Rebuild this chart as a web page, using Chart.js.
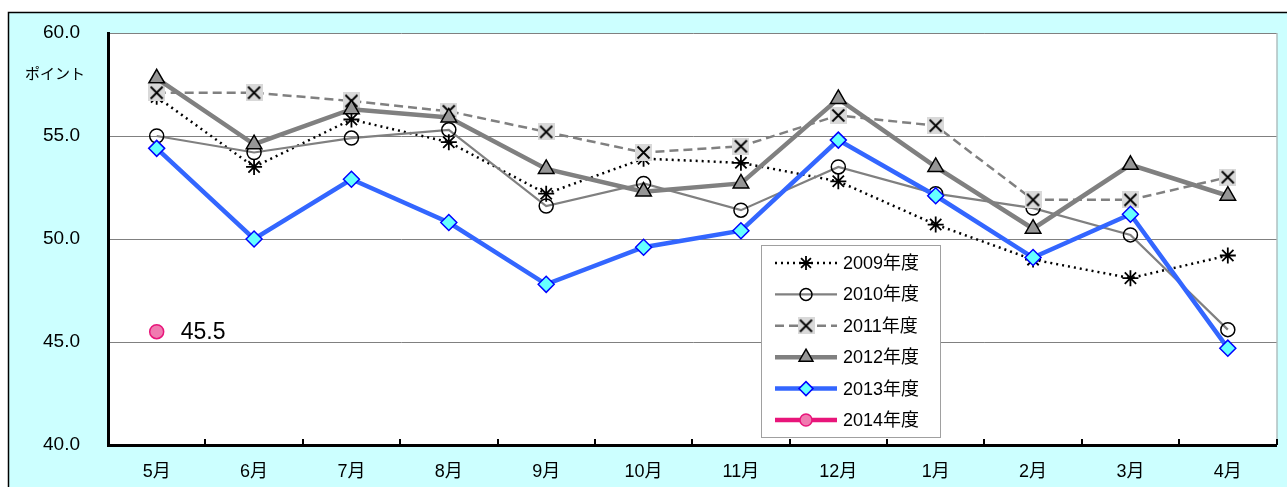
<!DOCTYPE html>
<html>
<head>
<meta charset="utf-8">
<script src="https://cdn.jsdelivr.net/npm/chart.js@4/dist/chart.umd.min.js"></script>
<style>
  html, body { margin: 0; padding: 0; background: #fff; }
  #wrap { width: 1287px; height: 487px; }
</style>
</head>
<body>
<div id="wrap"><canvas id="myChart" width="1287" height="487"></canvas></div>
<script>
const MONTHS = ['5月', '6月', '7月', '8月', '9月', '10月', '11月', '12月', '1月', '2月', '3月', '4月'];
const Y_TICKS = [40, 45, 50, 55, 60];
const Y_UNIT = 'ポイント';

const FY2009 = [56.9, 53.5, 55.8, 54.7, 52.2, 53.9, 53.7, 52.8, 50.7, 49.0, 48.1, 49.2];
const FY2010 = [55.0, 54.2, 54.9, 55.3, 51.6, 52.7, 51.4, 53.5, 52.2, 51.5, 50.2, 45.6];
const FY2011 = [57.1, 57.1, 56.7, 56.2, 55.2, 54.2, 54.5, 56.0, 55.5, 51.9, 51.9, 53.0];
const FY2012 = [57.8, 54.6, 56.3, 55.9, 53.4, 52.3, 52.7, 56.8, 53.5, 50.5, 53.6, 52.1];
const FY2013 = [54.4, 50.0, 52.9, 50.8, 47.8, 49.6, 50.4, 54.8, 52.1, 49.1, 51.2, 44.7];
const FY2014 = [45.5, null, null, null, null, null, null, null, null, null, null, null];

const FONT = "'Liberation Sans', 'Noto Sans CJK JP', sans-serif";

// gray square with an X on it, for 2011
function xBoxMarker() {
  const c = document.createElement('canvas');
  c.width = 17; c.height = 17;
  const g = c.getContext('2d');
  g.fillStyle = '#d9d9d9';
  g.fillRect(0, 0, 17, 17);
  g.strokeStyle = '#000';
  g.lineWidth = 1.8;
  g.beginPath();
  g.moveTo(2.5, 2.5); g.lineTo(14.5, 14.5);
  g.moveTo(14.5, 2.5); g.lineTo(2.5, 14.5);
  g.stroke();
  return c;
}
const XBOX = xBoxMarker();

const data = {
  labels: MONTHS,
  datasets: [
    { label: '2009年度', data: FY2009, borderColor: '#000', borderWidth: 2.5, borderDash: [2, 4],
      pointStyle: 'star', pointRadius: 8, pointBorderColor: '#000', pointBorderWidth: 1.8, pointBackgroundColor: '#000', order: 5 },
    { label: '2010年度', data: FY2010, borderColor: '#808080', borderWidth: 2.2,
      pointStyle: 'circle', pointRadius: 7, pointBorderColor: '#000', pointBorderWidth: 1.5, pointBackgroundColor: 'rgba(255,255,255,0)', order: 4 },
    { label: '2011年度', data: FY2011, borderColor: '#808080', borderWidth: 2.5, borderDash: [9, 5],
      pointStyle: XBOX, pointRadius: 8, order: 3 },
    { label: '2012年度', data: FY2012, borderColor: '#808080', borderWidth: 4.5,
      pointStyle: 'triangle', pointRadius: 9, pointBorderColor: '#000', pointBorderWidth: 1.5, pointBackgroundColor: '#969696', order: 2 },
    { label: '2013年度', data: FY2013, borderColor: '#3366ff', borderWidth: 4.5,
      pointStyle: 'rectRot', pointRadius: 8, pointBorderColor: '#0000ff', pointBorderWidth: 1.5, pointBackgroundColor: '#66ffff', order: 1 },
    { label: '2014年度', data: FY2014, borderColor: '#e8157a', borderWidth: 4.5,
      pointStyle: 'circle', pointRadius: 7, pointBorderColor: '#e8157a', pointBorderWidth: 1.5, pointBackgroundColor: '#f07ab0', order: 0 }
  ]
};

const frame = {
  id: 'frame',
  beforeDraw(chart) {
    const ctx = chart.ctx, a = chart.chartArea;
    ctx.save();
    ctx.fillStyle = '#ccffff';
    ctx.fillRect(8, 12, chart.width - 8, chart.height - 12);
    ctx.strokeStyle = '#000';
    ctx.lineWidth = 1.5;
    ctx.beginPath();
    ctx.moveTo(8.5, chart.height);
    ctx.lineTo(8.5, 12.5);
    ctx.lineTo(chart.width, 12.5);
    ctx.stroke();
    ctx.fillStyle = '#fff';
    ctx.fillRect(a.left, a.top, a.right - a.left, a.bottom - a.top);
    ctx.strokeStyle = '#a0a0a0';
    ctx.lineWidth = 1;
    ctx.beginPath();
    ctx.moveTo(a.right + 0.5, a.top);
    ctx.lineTo(a.right + 0.5, a.bottom);
    ctx.stroke();
    ctx.fillStyle = '#000';
    ctx.font = '15px ' + FONT;
    ctx.textAlign = 'center';
    ctx.textBaseline = 'middle';
    ctx.fillText(Y_UNIT, 55, 75);
    ctx.restore();
  },
  afterDraw(chart) {
    const ctx = chart.ctx, a = chart.chartArea;
    ctx.save();
    // inward tick marks between months
    ctx.strokeStyle = '#000';
    ctx.lineWidth = 2;
    const step = (a.right - a.left) / MONTHS.length;
    ctx.beginPath();
    for (let i = 1; i <= MONTHS.length; i++) {
      const px = Math.round(a.left + i * step);
      ctx.moveTo(px, a.bottom);
      ctx.lineTo(px, a.bottom - 6);
    }
    ctx.stroke();
    // value label for 2014
    const p = chart.getDatasetMeta(5).data[0];
    ctx.fillStyle = '#000';
    ctx.font = '23px ' + FONT;
    ctx.textAlign = 'left';
    ctx.textBaseline = 'middle';
    ctx.fillText(FY2014[0].toFixed(1), p.x + 24, p.y + 1);

    // legend box
    const lx = 761, ly = 245, lw = 179, lh = 192;
    ctx.fillStyle = '#fff';
    ctx.fillRect(lx, ly, lw, lh);
    ctx.strokeStyle = '#a0a0a0';
    ctx.lineWidth = 1;
    ctx.strokeRect(lx + 0.5, ly + 0.5, lw, lh);
    chart.data.datasets.forEach((ds, i) => {
      const cy = ly + 18 + i * 31.4;
      ctx.save();
      ctx.strokeStyle = ds.borderColor;
      ctx.lineWidth = ds.borderWidth;
      ctx.setLineDash(ds.borderDash || []);
      ctx.beginPath();
      ctx.moveTo(775, cy);
      ctx.lineTo(837, cy);
      ctx.stroke();
      ctx.restore();
      ctx.save();
      if (typeof ds.pointStyle === 'string') {
        ctx.fillStyle = ds.pointBackgroundColor;
        ctx.strokeStyle = ds.pointBorderColor;
        ctx.lineWidth = ds.pointBorderWidth;
      }
      Chart.helpers.drawPoint(ctx, { pointStyle: ds.pointStyle, radius: ds.pointRadius - 1, borderWidth: ds.pointBorderWidth || 1 }, 806, cy);
      ctx.restore();
      ctx.fillStyle = '#000';
      ctx.font = '18px ' + FONT;
      ctx.textAlign = 'left';
      ctx.textBaseline = 'middle';
      ctx.fillText(ds.label, 843, cy + 1);
    });
    ctx.restore();
  }
};

const config = {
  type: 'line',
  data: data,
  options: {
    responsive: false,
    animation: false,
    events: [],
    spanGaps: false,
    layout: { padding: { left: 0, top: 33, right: 10, bottom: 0 } },
    plugins: {
      legend: { display: false },
      tooltip: { enabled: false }
    },
    scales: {
      x: {
        offset: true,
        grid: { display: false, drawTicks: false },
        border: { display: true, color: '#000', width: 3 },
        ticks: { color: '#000', font: { family: FONT, size: 18 }, padding: 16, maxRotation: 0 },
        afterFit(s) { s.height = 42; s.paddingLeft = 0; s.paddingRight = 0; }
      },
      y: {
        min: 40, max: 60,
        afterBuildTicks(s) { s.ticks = Y_TICKS.map(v => ({ value: v })); },
        grid: { color: '#808080', lineWidth: 1, drawTicks: false },
        border: { display: true, color: '#000', width: 3 },
        ticks: { color: '#000', font: { family: FONT, size: 19 }, padding: 28, callback: v => v.toFixed(1) },
        afterFit(s) { s.width = 108; s.paddingTop = 0; s.paddingBottom = 0; }
      }
    }
  },
  plugins: [frame]
};

const myChart = new Chart(document.getElementById('myChart'), config);
</script>
</body>
</html>
